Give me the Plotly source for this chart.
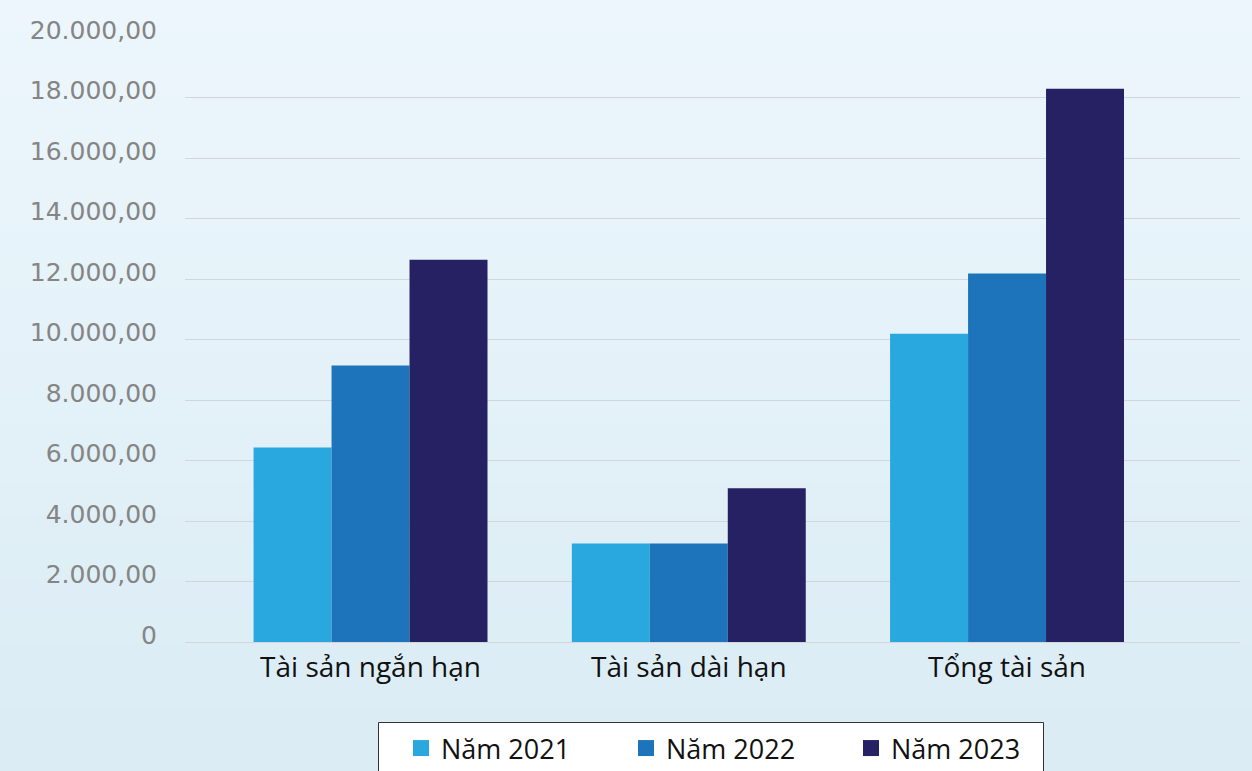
import plotly.graph_objects as go

categories = ["Tài sản ngắn hạn", "Tài sản dài hạn", "Tổng tài sản"]
series_names = ["Năm 2021", "Năm 2022", "Năm 2023"]
values_2021 = [6430, 3260, 10190]
values_2022 = [9140, 3260, 12180]
values_2023 = [12640, 5080, 18290]
colors = ["#29a8e0", "#1e74bb", "#252162"]

tick_vals = [0, 2000, 4000, 6000, 8000, 10000, 12000, 14000, 16000, 18000, 20000]
tick_text = ["0", "2.000,00", "4.000,00", "6.000,00", "8.000,00", "10.000,00",
             "12.000,00", "14.000,00", "16.000,00", "18.000,00", "20.000,00"]

W, H = 1252, 771
ML, MR, MT, MB = 185, 12, 37, 129

fig = go.Figure()
for name, vals, col in zip(series_names, [values_2021, values_2022, values_2023], colors):
    fig.add_trace(go.Bar(x=categories, y=vals, name=name, marker=dict(color=col, line=dict(width=0)),
                         showlegend=False))
for name, col in zip(series_names, colors):
    fig.add_trace(go.Scatter(x=[None], y=[None], mode="markers", name=name,
                             marker=dict(symbol="square", size=20, color=col)))

pw = W - ML - MR
ph = H - MT - MB


def px_x(x):
    return (x - ML) / pw


def px_y(y):
    return (H - MB - y) / ph


# background gradient bands
top_c = (0xec, 0xf6, 0xfc)
bot_c = (0xdb, 0xec, 0xf4)
n = 24
shapes = []
for i in range(n):
    t = i / (n - 1)
    c = tuple(round(top_c[k] + (bot_c[k] - top_c[k]) * t) for k in range(3))
    y0px = H * i / n
    y1px = H * (i + 1) / n + 1
    shapes.append(dict(type="rect", xref="paper", yref="paper", layer="below",
                       x0=px_x(0), x1=px_x(W),
                       y0=px_y(y1px), y1=px_y(y0px),
                       fillcolor="rgb(%d,%d,%d)" % c, line=dict(width=0)))

# legend box
shapes.append(dict(type="rect", xref="paper", yref="paper", layer="above",
                   x0=px_x(378.5), x1=px_x(1043.5), y0=px_y(790), y1=px_y(722.5),
                   fillcolor="#ffffff", line=dict(color="#333333", width=1)))

fig.update_layout(
    width=W, height=H,
    margin=dict(l=ML, r=MR, t=MT, b=MB, autoexpand=False),
    paper_bgcolor="#e3f1f8",
    plot_bgcolor="rgba(0,0,0,0)",
    barmode="group",
    bargap=0.265,
    bargroupgap=0,
    shapes=shapes,
    font=dict(family="Open Sans", color="#111111"),
    xaxis=dict(range=[-0.583, 2.732], showgrid=False, zeroline=False, showline=False,
               ticks="", ticklabelstandoff=6,
               tickfont=dict(family="Open Sans", size=28, color="#111111"),
               fixedrange=True),
    yaxis=dict(range=[0, 20000], tickvals=tick_vals, ticktext=tick_text,
               showgrid=True, gridcolor="#d2d6da", gridwidth=1.3,
               zeroline=True, zerolinecolor="#d2d6da", zerolinewidth=1.3,
               showline=False, ticks="", ticklabelstandoff=27, ticklabelshift=-7,
               tickfont=dict(family="DejaVu Sans", size=25, color="#858585")),
    legend=dict(orientation="h", x=px_x(401), xanchor="left",
                y=px_y(724), yanchor="top",
                bgcolor="rgba(0,0,0,0)", borderwidth=0,
                font=dict(family="Open Sans", size=27, color="#111111"),
                entrywidth=180, entrywidthmode="pixels",
                itemsizing="trace", tracegroupgap=0),
)

fig.write_html("out.html")
